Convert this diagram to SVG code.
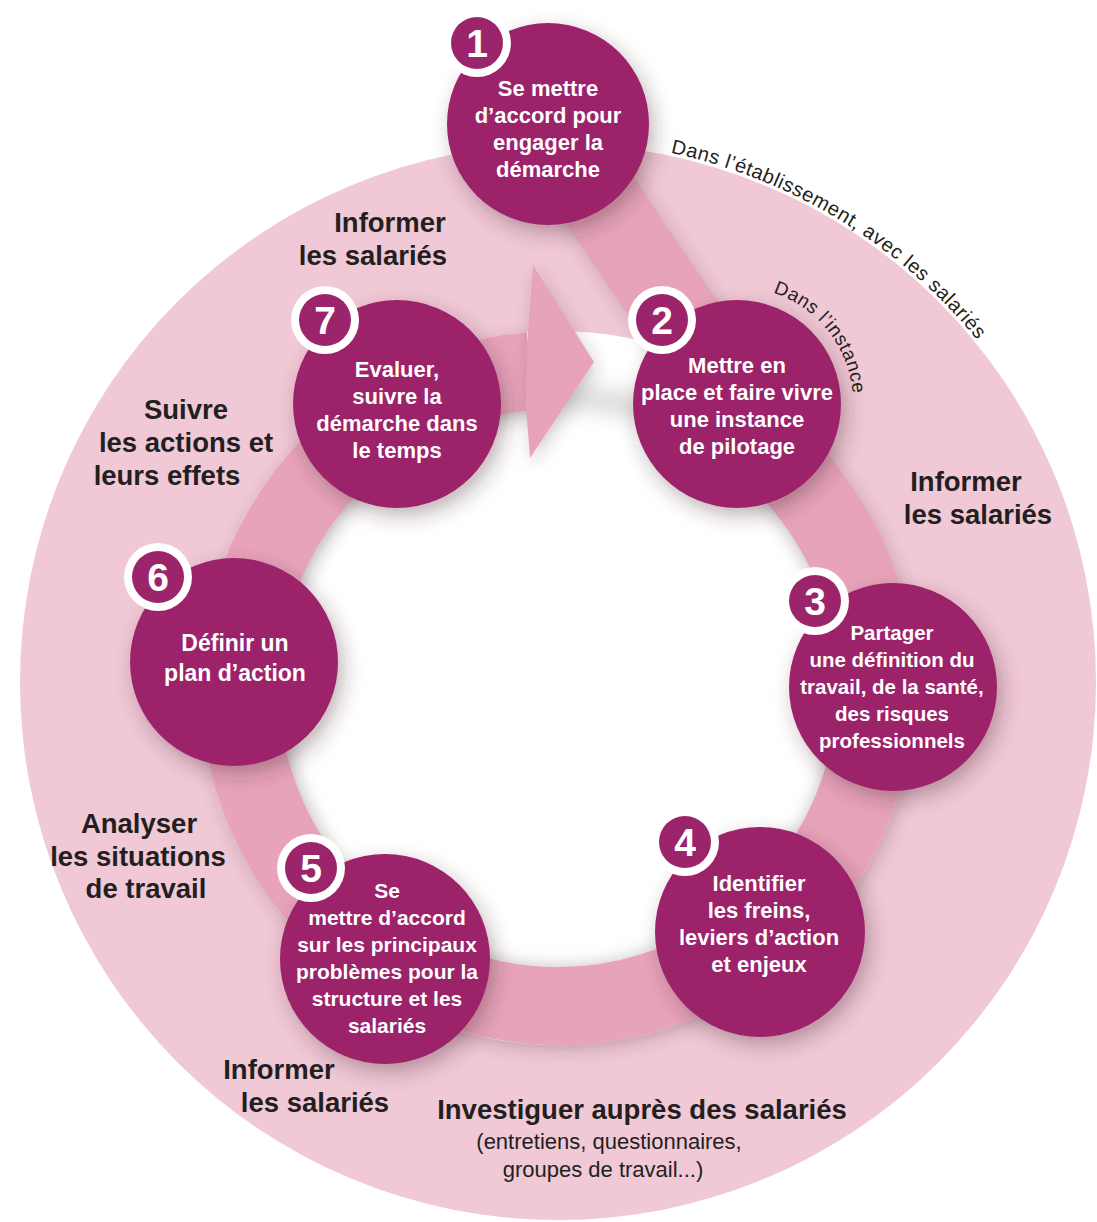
<svg xmlns="http://www.w3.org/2000/svg" width="1097" height="1222" viewBox="0 0 1097 1222">
  <defs>
    <style>
      .node { fill: #9c246a; }
      .badge-ring { fill: #ffffff; }
      .badge { fill: #9c246a; }
      .num { font-family: "Liberation Sans", Arial, sans-serif; font-weight: bold; font-size: 39px; fill: #ffffff; text-anchor: middle; }
      .nt { font-family: "Liberation Sans", Arial, sans-serif; font-weight: bold; font-size: 22px; fill: #ffffff; text-anchor: middle; }
      .lbl { font-family: "Liberation Sans", Arial, sans-serif; font-weight: bold; font-size: 27.5px; fill: #231f20; text-anchor: middle; }
      .sub { font-family: "Liberation Sans", Arial, sans-serif; font-size: 22px; fill: #231f20; text-anchor: middle; }
      .arc { font-family: "Liberation Sans", Arial, sans-serif; font-size: 20px; fill: #231f20; }
      .band { fill: #e7a3ba; }
      .ring { fill: none; stroke: #e7a3ba; stroke-width: 78; }
    </style>
    <filter id="sh" x="-40%" y="-40%" width="180%" height="180%">
      <feDropShadow dx="5" dy="8" stdDeviation="10" flood-color="#4a2a35" flood-opacity="0.35"/>
    </filter>
    <filter id="shs" x="-40%" y="-40%" width="180%" height="180%">
      <feDropShadow dx="3" dy="5" stdDeviation="8" flood-color="#4a2a35" flood-opacity="0.25"/>
    </filter>
    <filter id="blur" x="-20%" y="-20%" width="140%" height="140%">
      <feGaussianBlur stdDeviation="11"/>
    </filter>
    <path id="p-etab" d="M 670.5 152.8 A 541 541 0 0 1 990.1 356.4"/>
    <path id="p-inst" d="M 773.0 292.7 A 116 116 0 0 1 851.9 419.1"/>
  </defs>

  <rect width="1097" height="1222" fill="#ffffff"/>

  <!-- background circles -->
  <g id="background">
    <circle cx="558" cy="682" r="538" fill="#f0c8d6"/>
    <circle cx="558" cy="688" r="357" fill="#ffffff"/>
    <circle cx="558" cy="688" r="291" fill="none" stroke="#8a8a8a" stroke-width="18" opacity="0.4" filter="url(#blur)"/>
  </g>

  <!-- connectors -->
  <g id="connectors">
    <path id="ring-2-7" class="ring" filter="url(#shs)" d="M 707.3 407.2 A 318 318 0 1 1 530.3 371.2"/>
    <polygon id="arrow-7-2" class="band" points="528,330 533,265 594,362 530,458 526,408" filter="url(#shs)"/>
    <polygon id="band-1-2" class="band" points="581.6,100.5 770.6,379.5 703.4,426.5 514.4,147.5" filter="url(#shs)"/>
  </g>

  <!-- curved labels -->
  <g id="curved-labels">
    <text class="arc"><textPath href="#p-etab" textLength="366" lengthAdjust="spacing">Dans l’établissement, avec les salariés</textPath></text>
    <text class="arc" style="font-size:19px"><textPath href="#p-inst" textLength="136" lengthAdjust="spacing">Dans l’instance</textPath></text>
  </g>

  <!-- outer labels -->
  <g id="labels">
    <text class="lbl" x="390" y="232">Informer</text>
    <text class="lbl" x="373" y="265">les salariés</text>
    <text class="lbl" x="186" y="419">Suivre</text>
    <text class="lbl" x="186" y="452">les actions et</text>
    <text class="lbl" x="167" y="485">leurs effets</text>
    <text class="lbl" x="966" y="491">Informer</text>
    <text class="lbl" x="978" y="524">les salariés</text>
    <text class="lbl" x="139" y="833">Analyser</text>
    <text class="lbl" x="138" y="866">les situations</text>
    <text class="lbl" x="146" y="898">de travail</text>
    <text class="lbl" x="279" y="1079">Informer</text>
    <text class="lbl" x="315" y="1112">les salariés</text>
    <text class="lbl" x="642" y="1119">Investiguer auprès des salariés</text>
    <text class="sub" x="609" y="1149">(entretiens, questionnaires,</text>
    <text class="sub" x="603" y="1177">groupes de travail...)</text>
  </g>

  <!-- nodes -->
  <g id="node-1">
    <circle class="node" cx="548" cy="124" r="101" filter="url(#sh)"/>
    <circle class="badge-ring" cx="477" cy="43" r="34"/>
    <circle class="badge" cx="477" cy="43" r="26"/>
    <text class="num" x="477" y="57">1</text>
    <text class="nt" x="548" y="96">Se mettre</text>
    <text class="nt" x="548" y="123">d’accord pour</text>
    <text class="nt" x="548" y="150">engager la</text>
    <text class="nt" x="548" y="177">démarche</text>
  </g>

  <g id="node-2">
    <circle class="node" cx="737" cy="404" r="104" filter="url(#sh)"/>
    <circle class="badge-ring" cx="662" cy="320" r="34"/>
    <circle class="badge" cx="662" cy="320" r="26"/>
    <text class="num" x="662" y="334">2</text>
    <text class="nt" x="737" y="373">Mettre en</text>
    <text class="nt" x="737" y="400">place et faire vivre</text>
    <text class="nt" x="737" y="427">une instance</text>
    <text class="nt" x="737" y="454">de pilotage</text>
  </g>

  <g id="node-3">
    <circle class="node" cx="893" cy="687" r="104" filter="url(#sh)"/>
    <circle class="badge-ring" cx="815" cy="601" r="34"/>
    <circle class="badge" cx="815" cy="601" r="26"/>
    <text class="num" x="815" y="615">3</text>
    <text class="nt" x="892" y="640" style="font-size:20.5px">Partager</text>
    <text class="nt" x="892" y="667" style="font-size:20.5px">une définition du</text>
    <text class="nt" x="892" y="694" style="font-size:20.5px">travail, de la santé,</text>
    <text class="nt" x="892" y="721" style="font-size:20.5px">des risques</text>
    <text class="nt" x="892" y="748" style="font-size:20.5px">professionnels</text>
  </g>

  <g id="node-4">
    <circle class="node" cx="760" cy="932" r="105" filter="url(#sh)"/>
    <circle class="badge-ring" cx="685" cy="842" r="34"/>
    <circle class="badge" cx="685" cy="842" r="26"/>
    <text class="num" x="685" y="856">4</text>
    <text class="nt" x="759" y="891">Identifier</text>
    <text class="nt" x="759" y="918">les freins,</text>
    <text class="nt" x="759" y="945">leviers d’action</text>
    <text class="nt" x="759" y="972">et enjeux</text>
  </g>

  <g id="node-5">
    <circle class="node" cx="385" cy="959" r="105" filter="url(#sh)"/>
    <circle class="badge-ring" cx="311" cy="868" r="34"/>
    <circle class="badge" cx="311" cy="868" r="26"/>
    <text class="num" x="311" y="882">5</text>
    <text class="nt" x="387" y="898" style="font-size:21px">Se</text>
    <text class="nt" x="387" y="925" style="font-size:21px">mettre d’accord</text>
    <text class="nt" x="387" y="952" style="font-size:21px">sur les principaux</text>
    <text class="nt" x="387" y="979" style="font-size:21px">problèmes pour la</text>
    <text class="nt" x="387" y="1006" style="font-size:21px">structure et les</text>
    <text class="nt" x="387" y="1033" style="font-size:21px">salariés</text>
  </g>

  <g id="node-6">
    <circle class="node" cx="234" cy="662" r="104" filter="url(#sh)"/>
    <circle class="badge-ring" cx="158" cy="577" r="34"/>
    <circle class="badge" cx="158" cy="577" r="26"/>
    <text class="num" x="158" y="591">6</text>
    <text class="nt" x="235" y="651" style="font-size:23px">Définir un</text>
    <text class="nt" x="235" y="681" style="font-size:23px">plan d’action</text>
  </g>

  <g id="node-7">
    <circle class="node" cx="397" cy="404" r="104" filter="url(#sh)"/>
    <circle class="badge-ring" cx="325" cy="320" r="34"/>
    <circle class="badge" cx="325" cy="320" r="26"/>
    <text class="num" x="325" y="334">7</text>
    <text class="nt" x="397" y="377">Evaluer,</text>
    <text class="nt" x="397" y="404">suivre la</text>
    <text class="nt" x="397" y="431">démarche dans</text>
    <text class="nt" x="397" y="458">le temps</text>
  </g>
</svg>
